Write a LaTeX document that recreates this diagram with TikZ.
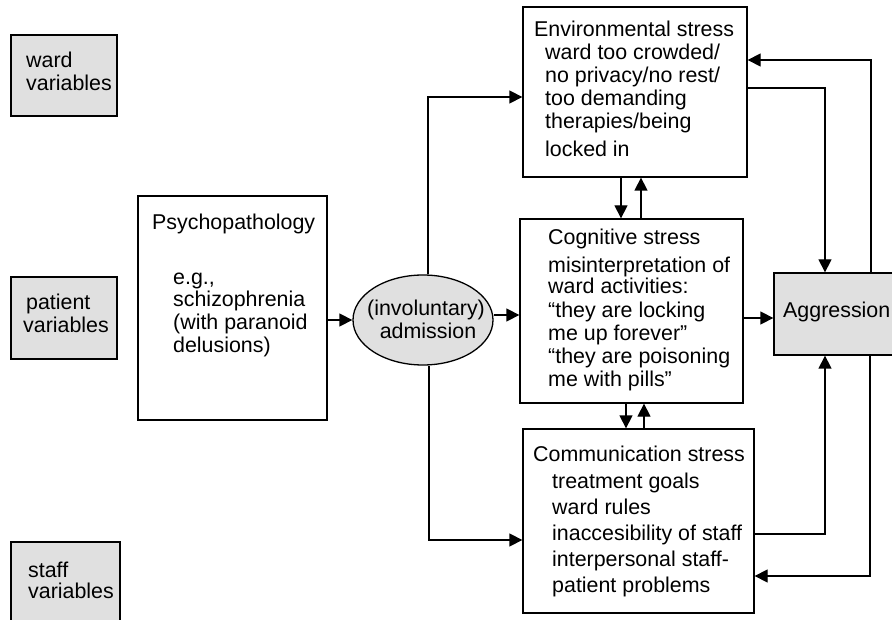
\documentclass[tikz,border=0pt]{standalone}
\usepackage{fontspec}
\setmainfont{Liberation Sans}
\usetikzlibrary{arrows.meta,shapes.geometric,fit}
\definecolor{boxgray}{RGB}{224,224,224}
\tikzset{
  box/.style={draw=black, line width=1.3pt, inner sep=0pt, rectangle},
  graybox/.style={box, fill=boxgray},
  txt/.style={anchor=base west, inner sep=0pt, font=\fontsize{21.4}{23}\selectfont},
  arr/.style={line width=1.3pt, -{Triangle[length=13pt,width=13pt]}},
}
\begin{document}
\begin{tikzpicture}[x=1pt,y=-1pt]
\useasboundingbox (0,0) rectangle (892,620);
\clip (0,0) rectangle (892,620);
% boxes
\node[graybox, fit={(11,35) (117,116)}] (ward) {};
\node[graybox, fit={(11,277) (117,359)}] (patient) {};
\node[graybox, fit={(11,542) (120,640)}] (staff) {};
\node[box, fill=white, fit={(138,196) (327,420)}] (psych) {};
\node[box, fill=white, fit={(523,7) (747,177)}] (env) {};
\node[box, fill=white, fit={(520,219) (743,403)}] (cog) {};
\node[box, fill=white, fit={(523,429) (754,613)}] (comm) {};
\node[graybox, fit={(774,273) (896,355)}] (aggr) {};
\node[draw=black, line width=1.3pt, fill=boxgray, ellipse, inner sep=0pt,
      minimum width=140pt, minimum height=90pt] (adm) at (423,320) {};
% texts
\node[txt] (t1) at (26,68) {ward};
\node[txt] (t2) at (26,91) {variables};
\node[txt] (t3) at (26,310) {patient};
\node[txt] (t4) at (23,333) {variables};
\node[txt] (t5) at (28,577) {staff};
\node[txt] (t6) at (28,598) {variables};
\node[txt] (p1) at (152,230) {Psychopathology};
\node[txt] (p2) at (173,285) {e.g.,};
\node[txt] (p3) at (173,307) {schizophrenia};
\node[txt] (p4) at (173,330) {(with paranoid};
\node[txt] (p5) at (173,353) {delusions)};
\node[txt, anchor=base] (a1) at (426,316) {(involuntary)};
\node[txt, anchor=base] (a2) at (428,339) {admission};
\node[txt] (e1) at (534,37) {Environmental stress};
\node[txt] (e2) at (545,60) {ward too crowded/};
\node[txt] (e3) at (545,83) {no privacy/no rest/};
\node[txt] (e4) at (545,106) {too demanding};
\node[txt] (e5) at (545,129) {therapies/being};
\node[txt] (e6) at (545,157) {locked in};
\node[txt] (c1) at (548,245) {Cognitive stress};
\node[txt] (c2) at (548,273) {misinterpretation of};
\node[txt] (c3) at (548,294) {ward activities:};
\node[txt] (c4) at (548,318) {“they are locking};
\node[txt] (c5) at (548,341) {me up forever”};
\node[txt] (c6) at (548,364) {“they are poisoning};
\node[txt] (c7) at (548,386) {me with pills”};
\node[txt] (m1) at (533,461) {Communication stress};
\node[txt] (m2) at (552,488) {treatment goals};
\node[txt] (m3) at (552,514) {ward rules};
\node[txt] (m4) at (552,540) {inaccesibility of staff};
\node[txt] (m5) at (552,566) {interpersonal staff-};
\node[txt] (m6) at (552,592) {patient problems};
\node[txt] (g1) at (783,318) {Aggression};
% connectors
\draw[arr] (psych.east |- adm.west) -- (adm.west);
\draw[arr] ([yshift=5pt]adm.east) -- ([yshift=5pt]adm.east -| cog.west);
\draw[arr] ([xshift=5pt]adm.north) |- ([yshift=-5pt]env.west);
\draw[arr] ([xshift=6pt]adm.south) |- ([yshift=-19pt]comm.west);
\draw[arr] ([xshift=-14pt]env.south) -- ([xshift=-14pt]env.south |- cog.north);
\draw[arr] ([xshift=6pt]env.south |- cog.north) -- ([xshift=6pt]env.south);
\draw[arr] ([xshift=-5.5pt]cog.south) -- ([xshift=-5.5pt]cog.south |- comm.north);
\draw[arr] ([xshift=12.5pt]cog.south |- comm.north) -- ([xshift=12.5pt]cog.south);
\draw[arr] ([yshift=-4pt]aggr.west -| cog.east) -- ([yshift=-4pt]aggr.west);
\draw[arr] ([yshift=4pt]env.east) -| ([xshift=-10pt]aggr.north);
\draw[arr] ([xshift=36pt]aggr.north) |- ([yshift=32pt]env.east);
\draw[arr] ([yshift=-13pt]comm.east) -| ([xshift=-10pt]aggr.south);
\draw[arr] ([xshift=35pt]aggr.south) |- ([yshift=-55pt]comm.east);
\end{tikzpicture}
\end{document}
